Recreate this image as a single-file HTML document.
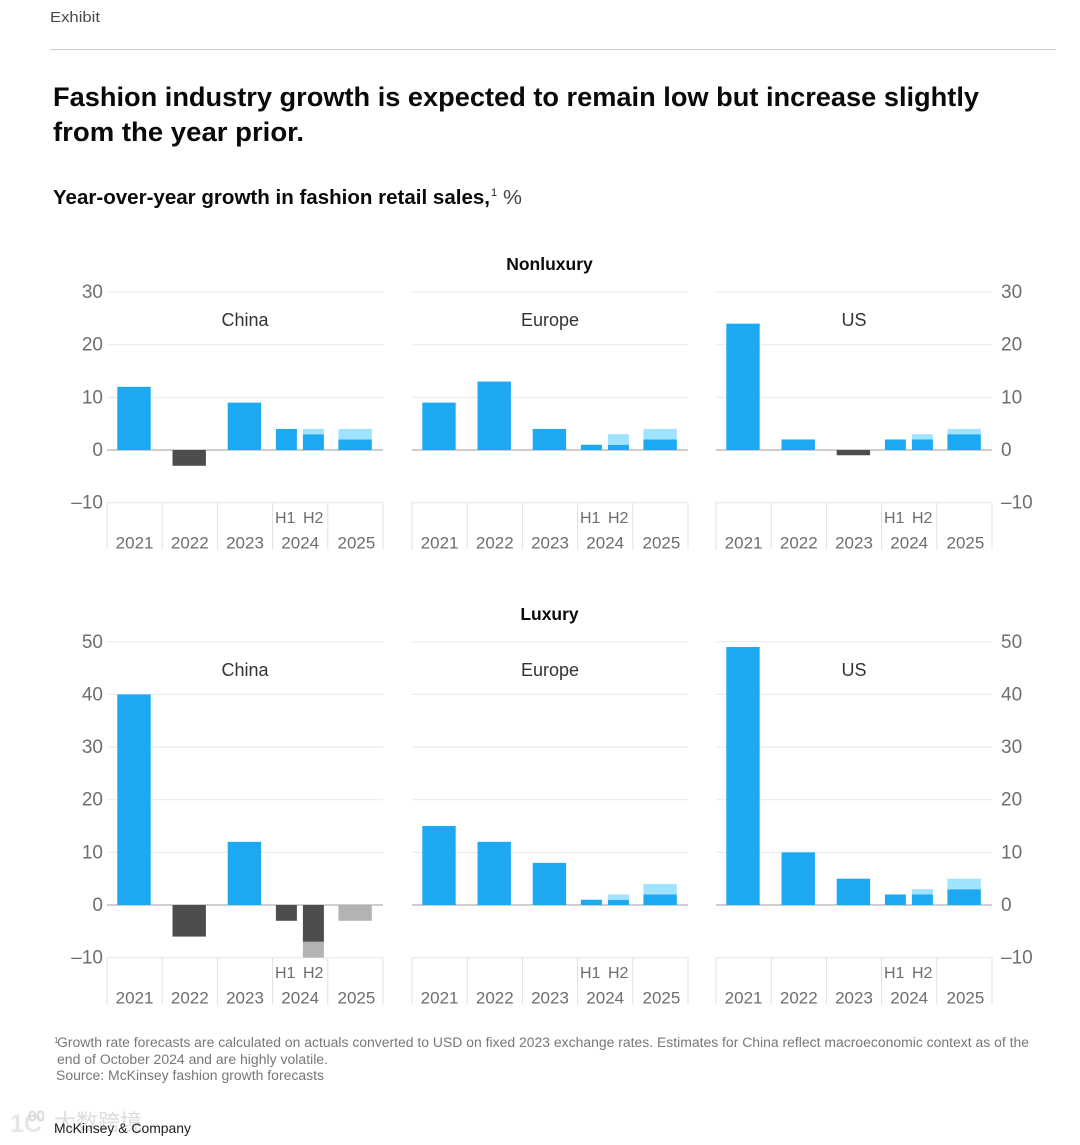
<!DOCTYPE html>
<html lang="en">
<head>
<meta charset="utf-8">
<title>Fashion industry growth</title>
<style>
html,body{margin:0;padding:0;background:#fff;width:1080px;height:1145px;overflow:hidden}
svg{display:block;font-family:"Liberation Sans","Noto Sans CJK SC",sans-serif}
</style>
</head>
<body>
<svg id="chart" xmlns="http://www.w3.org/2000/svg" width="1080" height="1145" viewBox="0 0 1080 1145">
  <rect x="0" y="0" width="1080" height="1145" fill="#fff"/>
  <text x="50" y="22" font-size="15" fill="#4a4a4a" textLength="50" lengthAdjust="spacingAndGlyphs">Exhibit</text>
  <line x1="50" x2="1056" y1="49.5" y2="49.5" stroke="#cccccc" stroke-width="1"/>
  <text x="53" y="106" font-size="27" font-weight="700" fill="#0a0a0a" textLength="926" lengthAdjust="spacingAndGlyphs">Fashion industry growth is expected to remain low but increase slightly</text>
  <text x="53" y="141" font-size="27" font-weight="700" fill="#0a0a0a" textLength="251" lengthAdjust="spacingAndGlyphs">from the year prior.</text>
  <text x="53" y="204" font-size="20" font-weight="700" fill="#0a0a0a" textLength="437" lengthAdjust="spacingAndGlyphs">Year-over-year growth in fashion retail sales,</text>
  <text x="491" y="196" font-size="11" fill="#222">1</text>
  <text x="503" y="204" font-size="20" fill="#444" textLength="19" lengthAdjust="spacingAndGlyphs">%</text>
  <g id="plots"></g>
  <text x="54" y="1043" font-size="8" fill="#777">1</text>
  <text x="57" y="1047" font-size="13.5" fill="#777" textLength="972" lengthAdjust="spacingAndGlyphs">Growth rate forecasts are calculated on actuals converted to USD on fixed 2023 exchange rates. Estimates for China reflect macroeconomic context as of the</text>
  <text x="57" y="1064" font-size="13.5" fill="#777" textLength="271" lengthAdjust="spacingAndGlyphs">end of October 2024 and are highly volatile.</text>
  <text x="56" y="1080" font-size="13.5" fill="#777" textLength="268" lengthAdjust="spacingAndGlyphs">Source: McKinsey fashion growth forecasts</text>
  <g>
    <text x="10" y="1132" font-size="25" font-weight="700" fill="#e6e6e6">1C</text>
    <text x="28" y="1121" font-size="15" fill="none" stroke="#d4d4d4" stroke-width="0.8">00</text>
    <text x="54" y="1130" font-size="22" fill="#dddddd" textLength="88" font-family="'Noto Sans CJK SC',sans-serif">大数跨境</text>
  </g>
  <text x="54" y="1133" font-size="14" fill="#1c1c1c" textLength="137" lengthAdjust="spacingAndGlyphs">McKinsey &amp; Company</text>
</svg>
<script>
// Categories
const years = ["2021", "2022", "2023", "2024", "2025"];
const halves = ["H1", "H2"];
const barKeys = ["2021", "2022", "2023", "2024 H1", "2024 H2", "2025"];
const regions = ["China", "Europe", "US"];

// Tick labels
const nonluxuryTicks = [30, 20, 10, 0, -10];
const luxuryTicks = [50, 40, 30, 20, 10, 0, -10];

// Actual portion of each bar
const nonluxuryChinaBase = [12, -3, 9, 4, 3, 2];
const nonluxuryEuropeBase = [9, 13, 4, 1, 1, 2];
const nonluxuryUsBase = [24, 2, -1, 2, 2, 3];
const luxuryChinaBase = [40, -6, 12, -3, -7, 0];
const luxuryEuropeBase = [15, 12, 8, 1, 1, 2];
const luxuryUsBase = [49, 10, 5, 2, 2, 3];

// Forecast-range end of each bar (equal to base when there is no range)
const nonluxuryChinaHigh = [12, -3, 9, 4, 4, 4];
const nonluxuryEuropeHigh = [9, 13, 4, 1, 3, 4];
const nonluxuryUsHigh = [24, 2, -1, 2, 3, 4];
const luxuryChinaHigh = [40, -6, 12, -3, -10, -3];
const luxuryEuropeHigh = [15, 12, 8, 1, 2, 4];
const luxuryUsHigh = [49, 10, 5, 2, 3, 5];

const NS = "http://www.w3.org/2000/svg";
const plots = document.getElementById("plots");
const PANEL_LEFT = [107, 412, 716];
const PANEL_W = 276;
const UNIT = 5.265;
const COLORS = {pos: "#1ca9f2", posLight: "#9fe3ff", neg: "#4d4d4d", negLight: "#b3b3b3"};

function make(tag, attrs, text) {
  const el = document.createElementNS(NS, tag);
  for (const k in attrs) el.setAttribute(k, attrs[k]);
  if (text !== undefined) el.textContent = text;
  plots.appendChild(el);
  return el;
}

function drawRect(x, w, yScale, a, b, fill, name) {
  const top = Math.min(yScale(a), yScale(b));
  const h = Math.abs(yScale(a) - yScale(b));
  const el = make("rect", {x: x, y: top, width: w, height: h, fill: fill});
  
  
}

function drawPanel(groupName, region, panelIndex, ticks, zeroY, base, high) {
  const left = PANEL_LEFT[panelIndex];
  const right = left + PANEL_W;
  const yScale = v => zeroY - v * UNIT;
  const catW = PANEL_W / years.length;
  const xCenter = i => left + catW * (i + 0.5);
  const prefix = groupName + "-" + region.toLowerCase();

  ticks.forEach(t => {
    const line = make("line", {x1: left, x2: right, y1: yScale(t), y2: yScale(t), stroke: t === 0 ? "#bdbdbd" : "#ebebeb", "stroke-width": t === 0 ? 1.4 : 1.2});
    
    
    const label = String(t).replace("-", "\u2013");
    if (panelIndex === 0) {
      const tl = make("text", {x: 103, y: yScale(t) + 6, "text-anchor": "end", "font-size": 19, fill: "#6e6e6e"}, label);
      
      
    }
    if (panelIndex === 2) {
      const tr = make("text", {x: 1001, y: yScale(t) + 6, "text-anchor": "start", "font-size": 19, fill: "#6e6e6e"}, label);
      
      
    }
  });

  const title = make("text", {x: left + PANEL_W / 2, y: yScale(ticks[0]) + 34, "text-anchor": "middle", "font-size": 18, fill: "#333"}, region);
  
  

  const bottom = yScale(-10);
  for (let i = 0; i <= years.length; i++) {
    const x = left + catW * i;
    const d = make("line", {x1: x, x2: x, y1: bottom, y2: bottom + 47, stroke: "#e0e0e0", "stroke-width": 1});
    
    
  }
  years.forEach((yr, i) => {
    const yl = make("text", {x: xCenter(i) + (i === 4 ? 1 : 0), y: bottom + 46, "text-anchor": "middle", "font-size": 17, fill: "#6e6e6e"}, yr);
    
    
  });
  halves.forEach((h, i) => {
    const hl = make("text", {x: xCenter(3) + (i === 0 ? -15 : 13), y: bottom + 20.5, "text-anchor": "middle", "font-size": 16, fill: "#6e6e6e"}, h);
    
    
  });

  barKeys.forEach((key, i) => {
    let x, w;
    if (i < 3) { x = xCenter(i) - 17.3; w = 33.4; }
    else if (i === 3) { x = xCenter(3) - 24.3; w = 21; }
    else if (i === 4) { x = xCenter(3) + 2.7; w = 21; }
    else { x = xCenter(4) - 17; w = 33.4; }
    const b = base[i], t = high[i];
    const barName = prefix + "-bar-" + key.replace(" ", "-").toLowerCase();
    if (b !== 0) drawRect(x, w, yScale, 0, b, b > 0 ? COLORS.pos : COLORS.neg, barName);
    if (t !== b) drawRect(x, w, yScale, b, t, t > 0 ? COLORS.posLight : COLORS.negLight, barName + "-range");
  });
}

const sec1 = make("text", {x: 549.5, y: 270, "text-anchor": "middle", "font-size": 17.5, "font-weight": 700, fill: "#0a0a0a"}, "Nonluxury");


const sec2 = make("text", {x: 549.5, y: 620, "text-anchor": "middle", "font-size": 17.5, "font-weight": 700, fill: "#0a0a0a"}, "Luxury");



drawPanel("nonluxury", regions[0], 0, nonluxuryTicks, 450, nonluxuryChinaBase, nonluxuryChinaHigh);
drawPanel("nonluxury", regions[1], 1, nonluxuryTicks, 450, nonluxuryEuropeBase, nonluxuryEuropeHigh);
drawPanel("nonluxury", regions[2], 2, nonluxuryTicks, 450, nonluxuryUsBase, nonluxuryUsHigh);
drawPanel("luxury", regions[0], 0, luxuryTicks, 905, luxuryChinaBase, luxuryChinaHigh);
drawPanel("luxury", regions[1], 1, luxuryTicks, 905, luxuryEuropeBase, luxuryEuropeHigh);
drawPanel("luxury", regions[2], 2, luxuryTicks, 905, luxuryUsBase, luxuryUsHigh);
</script>
</body>
</html>
